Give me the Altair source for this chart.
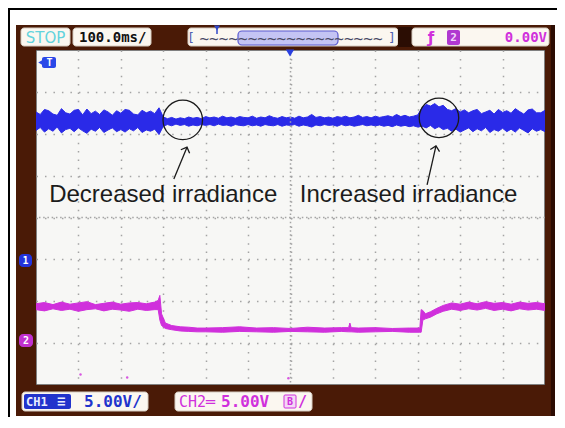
import altair as alt
import pandas as pd

# ---------------- data (screen divisions: 12 x 8, 100 ms/div) ----------------
blue_t = [round(i * 0.1, 1) for i in range(121)]
blue_hi = [
    2.52, 2.46, 2.58, 2.55, 2.47, 2.44, 2.60, 2.50, 2.47, 2.56,
    2.58, 2.45, 2.59, 2.48, 2.54, 2.46, 2.57, 2.52, 2.44, 2.55,
    2.49, 2.58, 2.56, 2.47, 2.45, 2.56, 2.50, 2.54, 2.48, 2.62,
    2.40, 2.36, 2.39, 2.35, 2.38, 2.36, 2.40, 2.37, 2.39, 2.36,
    2.41, 2.38, 2.40, 2.37, 2.42, 2.38, 2.40, 2.37, 2.41, 2.39,
    2.38, 2.42, 2.37, 2.40, 2.38, 2.43, 2.39, 2.37, 2.41, 2.38,
    2.40, 2.37, 2.42, 2.38, 2.40, 2.46, 2.39, 2.41, 2.38, 2.40,
    2.37, 2.41, 2.39, 2.42, 2.38, 2.40, 2.44, 2.39, 2.41, 2.38,
    2.42, 2.39, 2.41, 2.43, 2.40, 2.46, 2.41, 2.44, 2.40, 2.42,
    2.45,
    2.62, 2.70, 2.66, 2.72, 2.64, 2.68, 2.58, 2.55, 2.60, 2.52,
    2.57, 2.50, 2.55, 2.58, 2.48, 2.52, 2.56, 2.47, 2.58, 2.51,
    2.55, 2.49, 2.60, 2.53, 2.47, 2.57, 2.59, 2.50, 2.50, 2.56,
]
blue_lo = [
    2.08, 2.15, 2.04, 2.12, 2.06, 2.16, 2.02, 2.10, 2.13, 2.05,
    2.14, 2.07, 2.01, 2.11, 2.06, 2.15, 2.03, 2.09, 2.14, 2.05,
    2.10, 2.04, 2.12, 2.07, 2.15, 2.03, 2.09, 2.06, 2.11, 1.98,
    2.18, 2.22, 2.19, 2.23, 2.20, 2.22, 2.18, 2.21, 2.19, 2.22,
    2.20, 2.22, 2.19, 2.23, 2.20, 2.21, 2.18, 2.22, 2.20, 2.19,
    2.22, 2.19, 2.21, 2.18, 2.22, 2.20, 2.19, 2.22, 2.18, 2.21,
    2.20, 2.22, 2.18, 2.21, 2.19, 2.16, 2.21, 2.19, 2.22, 2.20,
    2.21, 2.18, 2.22, 2.19, 2.21, 2.18, 2.20, 2.22, 2.19, 2.21,
    2.19, 2.21, 2.18, 2.20, 2.17, 2.21, 2.18, 2.20, 2.17, 2.19,
    2.16,
    2.18, 2.14, 2.20, 2.12, 2.17, 2.10, 2.13, 2.06, 2.11, 2.04,
    2.09, 2.14, 2.05, 2.12, 2.07, 2.15, 2.03, 2.10, 2.06, 2.13,
    2.05, 2.11, 2.04, 2.14, 2.08, 2.02, 2.12, 2.06, 2.10, 2.05,
]
mag_t = [
    0.0, 0.2, 0.4, 0.6, 0.8, 1.0, 1.2, 1.4, 1.6, 1.8, 2.0, 2.2, 2.4, 2.6, 2.8,
    2.88, 2.92, 2.96, 3.05, 3.2, 3.4, 3.6, 3.8,
    4.0, 4.4, 4.8, 5.2, 5.6, 6.0, 6.4, 6.8, 7.2, 7.37, 7.4, 7.43, 7.6, 8.0, 8.4, 8.8, 9.05,
    9.08, 9.12, 9.18, 9.3, 9.45, 9.6,
    9.8, 10.0, 10.2, 10.4, 10.6, 10.8, 11.0, 11.2, 11.4, 11.6, 11.8, 12.0,
]
mag_hi = [
    -2.06, -2.03, -2.08, -2.02, -2.07, -2.04, -2.01, -2.08, -2.05, -2.02, -2.07, -2.04, -2.03, -2.06, -2.02,
    -1.98, -1.86, -2.30, -2.52, -2.58, -2.61, -2.62, -2.64,
    -2.64, -2.63, -2.61, -2.64, -2.63, -2.65, -2.62, -2.64, -2.63, -2.63, -2.52, -2.63, -2.64, -2.63, -2.65, -2.64, -2.64,
    -2.20, -2.22, -2.30, -2.25, -2.17, -2.10,
    -2.04, -2.07, -2.02, -2.06, -2.01, -2.05, -2.03, -2.07, -2.02, -2.05, -2.03, -2.06,
]
mag_lo = [
    -2.20, -2.23, -2.18, -2.22, -2.19, -2.24, -2.20, -2.18, -2.23, -2.19, -2.21, -2.24, -2.19, -2.22, -2.20,
    -2.20, -2.45, -2.58, -2.65, -2.68, -2.71, -2.72, -2.73,
    -2.73, -2.74, -2.72, -2.73, -2.74, -2.72, -2.73, -2.74, -2.72, -2.73, -2.73, -2.73, -2.74, -2.73, -2.72, -2.74, -2.74,
    -2.74, -2.45, -2.42, -2.38, -2.30, -2.24,
    -2.19, -2.22, -2.18, -2.21, -2.17, -2.22, -2.19, -2.23, -2.18, -2.21, -2.19, -2.22,
]
dot_t = [1.05, 2.15, 5.95]
dot_v = [-3.75, -3.82, -3.84]
grid_t = [1, 2, 3, 4, 5, 6, 7, 8, 9, 10, 11]
grid_v = [-3, -2, -1, 0, 1, 2, 3]
circle_t = [3.46, 9.50]
circle_v = [2.33, 2.38]
note_labels = ["Decreased irradiance", "Increased irradiance"]
note_t = [0.31, 6.22]
note_v = [0.37, 0.37]
arrow_t = [3.25, 9.22]
arrow_v = [0.92, 0.78]
arrow_t2 = [3.56, 9.43]
arrow_v2 = [1.68, 1.71]

assert len(blue_t) == len(blue_hi) == len(blue_lo)
assert len(mag_t) == len(mag_hi) == len(mag_lo)

blue_df = pd.DataFrame({"t": blue_t, "v": blue_hi, "v2": blue_lo})
mag_df = pd.DataFrame({"t": mag_t, "v": mag_hi, "v2": mag_lo})
dot_df = pd.DataFrame({"t": dot_t, "v": dot_v})
circ_df = pd.DataFrame({"t": circle_t, "v": circle_v})
note_df = pd.DataFrame({"t": note_t, "v": note_v, "label": note_labels})
arrow_df = pd.DataFrame({"t": arrow_t, "v": arrow_v, "t2": arrow_t2, "v2": arrow_v2})
dec = pd.DataFrame({"k": [0]})

BLUE = "#2a2ae8"
MAG = "#d030dc"
BEZEL = "#4a1a06"
BOXFILL = "#fbf7f0"
W, H = 509, 335
OX, OY = 36, 50  # page position of the screen's top-left corner

xs = alt.Scale(domain=[0, 12], nice=False, zero=False)
ys = alt.Scale(domain=[-4, 4], nice=False, zero=False)

# ---------------- traces ----------------
blue = alt.Chart(blue_df).mark_area(color=BLUE, stroke=BLUE, strokeWidth=1, opacity=1).encode(
    x=alt.X("t:Q", scale=xs, axis=alt.Axis(values=grid_t, grid=True, gridDash=[1.5, 6.875],
                                           gridColor="#a4a4a4", gridWidth=1.5, labels=False,
                                           ticks=False, domain=False, title=None)),
    y=alt.Y("v:Q", scale=ys, axis=alt.Axis(values=grid_v, grid=True, gridDash=[1.5, 6.98],
                                           gridColor="#a4a4a4", gridWidth=1.5, labels=False,
                                           ticks=False, domain=False, title=None)),
    y2="v2:Q",
)
mag = alt.Chart(mag_df).mark_area(color=MAG, stroke=MAG, strokeWidth=1, opacity=1).encode(
    x="t:Q", y="v:Q", y2="v2:Q")
dots = alt.Chart(dot_df).mark_point(shape="circle", size=6, filled=True, color=MAG, opacity=0.8).encode(
    x="t:Q", y="v:Q")

center_v = alt.Chart(pd.DataFrame({"t": [6]})).mark_rule(
    color="#a4a4a4", strokeWidth=1.5, strokeDash=[1.5, 2.69]).encode(x="t:Q")
center_h = alt.Chart(pd.DataFrame({"v": [0]})).mark_rule(
    color="#a4a4a4", strokeWidth=1.5, strokeDash=[1.5, 2.74]).encode(y="v:Q")

circles = alt.Chart(circ_df).mark_point(shape="circle", size=1560, filled=False,
                                        color="#1a1a1a", strokeWidth=1.3, opacity=1).encode(
    x="t:Q", y="v:Q")
arrows = alt.Chart(arrow_df).mark_rule(color="#1a1a1a", strokeWidth=1.3).encode(
    x="t:Q", y="v:Q", x2="t2:Q", y2="v2:Q")
chevron = "M -1 1 L 0 0 L 1 1"
head1 = alt.Chart(arrow_df.iloc[[0]]).mark_point(shape=chevron, size=90, filled=False,
                                                 color="#1a1a1a", strokeWidth=1.3, opacity=1).encode(
    x="t2:Q", y="v2:Q", angle=alt.value(22))
head2 = alt.Chart(arrow_df.iloc[[1]]).mark_point(shape=chevron, size=90, filled=False,
                                                 color="#1a1a1a", strokeWidth=1.3, opacity=1).encode(
    x="t2:Q", y="v2:Q", angle=alt.value(13))
notes = alt.Chart(note_df).mark_text(align="left", baseline="alphabetic", fontSize=24,
                                     font="Liberation Sans", color="#1c1c1c").encode(
    x="t:Q", y="v:Q", text="label:N")


# ---------------- decoration helpers (page pixel coordinates) ----------------
def box(x1, y1, x2, y2, fill, stroke=None, r=0, sw=1.0, op=1.0):
    kw = dict(fill=fill, cornerRadius=r, fillOpacity=op)
    if stroke:
        kw.update(stroke=stroke, strokeWidth=sw)
    return alt.Chart(dec).mark_rect(**kw).encode(
        x=alt.value(x1 - OX), x2=alt.value(x2 - OX), y=alt.value(y1 - OY), y2=alt.value(y2 - OY))


def label(x, y, s, color, size, font="DejaVu Sans Mono", weight="bold", align="left", style="normal"):
    return alt.Chart(dec).mark_text(text=s, color=color, fontSize=size, font=font, fontWeight=weight,
                                    fontStyle=style, align=align, baseline="middle").encode(
        x=alt.value(x - OX), y=alt.value(y - OY))


def sym(x, y, shape, size, color):
    return alt.Chart(dec).mark_point(shape=shape, size=size, filled=True, color=color, opacity=1).encode(
        x=alt.value(x - OX), y=alt.value(y - OY))


def vline(x, y1, y2, color, sw):
    return alt.Chart(dec).mark_rule(color=color, strokeWidth=sw).encode(
        x=alt.value(x - OX), y=alt.value(y1 - OY), y2=alt.value(y2 - OY))


def hline(y, x1, x2, color, sw):
    return alt.Chart(dec).mark_rule(color=color, strokeWidth=sw).encode(
        y=alt.value(y - OY), x=alt.value(x1 - OX), x2=alt.value(x2 - OX))


deco = [
    # outer frame
    vline(9, 8, 430, "#000000", 2),
    hline(9, 8, 565, "#000000", 2),
    # bezel
    box(16, 25, 555, 50, BEZEL),
    box(16, 385, 555, 416, BEZEL),
    box(16, 50, 36, 385, BEZEL),
    box(545, 50, 555, 385, BEZEL),
    box(551, 25, 555, 416, "#2c0c02"),
    # top bar
    box(21, 28, 70, 46, BOXFILL, "#d6ccc0", 3),
    label(45.5, 37.5, "STOP", "#62d3dd", 15, font="DejaVu Sans", weight="normal", align="center"),
    box(73, 28, 151, 46, BOXFILL, "#d6ccc0", 3),
    label(79, 37.5, "100.0ms/", "#111111", 14),
    box(188, 28, 398, 46, BOXFILL, "#d6ccc0", 3),
    box(238, 31, 338, 45, "#c4c4f4", "#5a5ad0", 4, 1.2, 1.0),
    label(291, 38.5, "~" * 19, "#4a4a66", 16, weight="normal", align="center"),
    label(191, 37.5, "[", "#5060b0", 13, weight="normal", align="center"),
    label(392, 37.5, "]", "#5060b0", 13, weight="normal", align="center"),
    sym(217, 28, "triangle-down", 36, "#3048c8"),
    vline(217, 28, 34, "#3048c8", 1.5),
    box(398, 27, 412, 47, "#2b0d03"),
    box(412, 28, 549, 46, BOXFILL, "#d6ccc0", 3),
    label(431, 37.5, "ƒ", MAG, 15, font="DejaVu Sans", weight="bold", align="center"),
    box(447, 30, 460, 45, "#b038d0", None, 2),
    label(453.5, 37.5, "2", "#f2d6fa", 11, align="center"),
    label(547, 37.5, "0.00V", MAG, 14, align="right"),
    # screen markers
    sym(290, 53, "triangle-down", 70, "#2a40e0"),
    box(42, 57, 56, 68, "#2a48e8", None, 2),
    sym(41, 62.5, "triangle-left", 40, "#2a48e8"),
    label(49.5, 62.5, "T", "#ffffff", 10, align="center"),
    box(19, 254, 32, 267, "#2233dd", None, 4),
    label(25.5, 260.5, "1", "#ffffff", 10, align="center"),
    box(19, 334, 33, 347, "#c030d0", None, 4),
    label(26, 340.5, "2", "#ffffff", 10, align="center"),
    # bottom bar
    box(22, 392, 148, 411, BOXFILL, "#d6ccc0", 3),
    box(24, 394, 71, 409, "#2233cc", None, 2),
    label(26, 401.5, "CH1", "#e8ecff", 12),
    label(57, 401.5, "≡", "#e8ecff", 14, weight="bold"),
    label(84, 401.5, "5.00V/", "#2233cc", 16),
    box(175, 392, 312, 411, BOXFILL, "#d6ccc0", 3),
    label(179, 401.5, "CH2═", MAG, 15, weight="normal"),
    label(221, 401.5, "5.00V", MAG, 16),
    box(284, 395, 296, 408, "#f4d8f6", MAG, 1, 1),
    label(290, 401.5, "B", MAG, 10, align="center"),
    label(298, 401.5, "/", MAG, 15),
]

chart = alt.layer(
    blue, center_v, center_h, mag, dots, circles, arrows, head1, head2, notes, *deco
).properties(
    width=W, height=H,
    autosize=alt.AutoSizeParams(type="none"),
    padding={"left": 28, "top": 42, "right": 12, "bottom": 32},
    background="#ffffff",
).configure_view(
    fill="#f7f7f5", stroke="#5a5a5a", strokeWidth=1.5,
)

chart.save("out.html", embed_options={"renderer": "svg", "actions": False})
